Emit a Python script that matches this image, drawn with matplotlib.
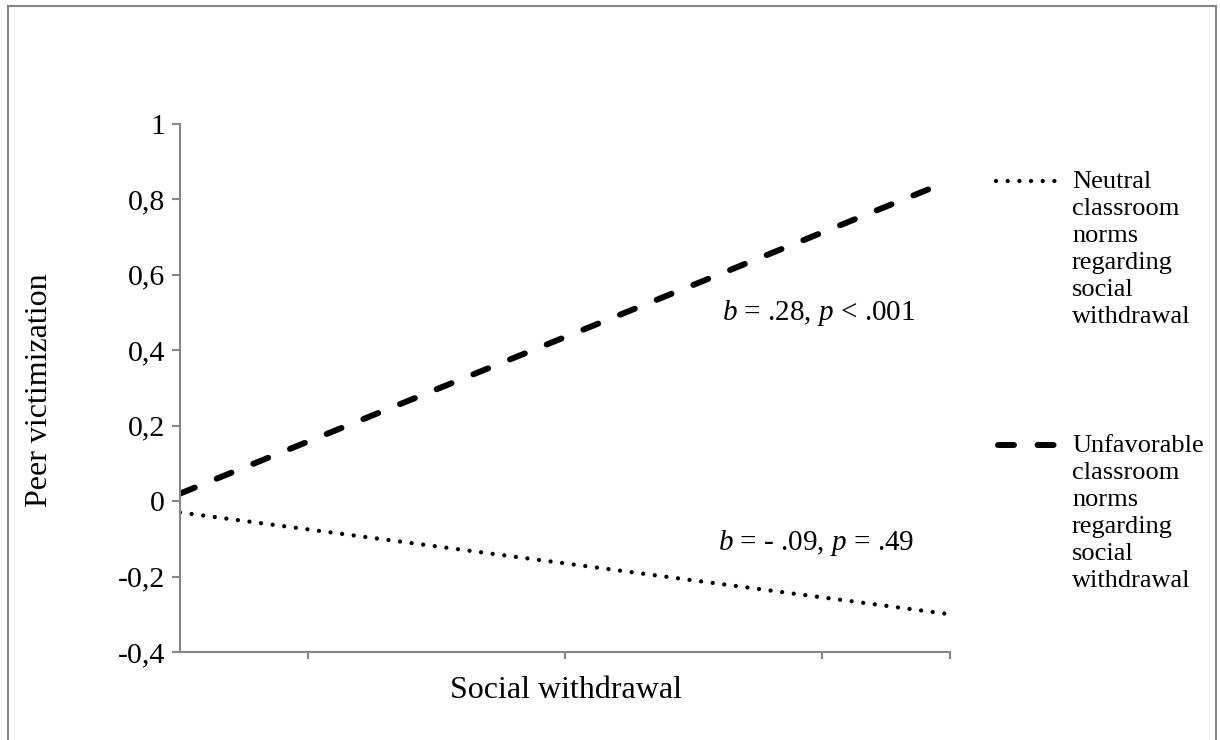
#!/usr/bin/env python3
# -*- coding: utf-8 -*-
"""Simple slopes plot: peer victimization vs social withdrawal by classroom norms."""
import matplotlib
matplotlib.use("Agg")
import matplotlib.pyplot as plt
from matplotlib.lines import Line2D

plt.rcParams["font.family"] = ["Liberation Serif", "DejaVu Serif"]
plt.rcParams["mathtext.fontset"] = "custom"
plt.rcParams["mathtext.rm"] = "Liberation Serif"
plt.rcParams["mathtext.it"] = "Liberation Serif:italic"
plt.rcParams["lines.scale_dashes"] = False

# data (low -> high social withdrawal)
x_pos = [0.0, 1.0]
neutral = [-0.03, -0.30]
unfavorable = [0.02, 0.85]
y_ticks = [-0.4, -0.2, 0, 0.2, 0.4, 0.6, 0.8, 1]
y_labels = ["-0,4", "-0,2", "0", "0,2", "0,4", "0,6", "0,8", "1"]
x_ticks = [1 / 6, 0.5, 5 / 6, 1.0]
lab_neutral = "Neutral\nclassroom\nnorms\nregarding\nsocial\nwithdrawal"
lab_unfav = "Unfavorable\nclassroom\nnorms\nregarding\nsocial\nwithdrawal"

W, H = 1220, 740
fig = plt.figure(figsize=(W / 100, H / 100), dpi=100)
ax = fig.add_axes([180 / W, (H - 652) / H, (950 - 180) / W, (652 - 124) / H])

gray = "#868686"
DOT = dict(color="black", lw=3.1, dashes=(0.01, 8.4), dash_capstyle="round")
DASH = dict(color="black", lw=4.3, dashes=(11.5, 17), dash_capstyle="round")

ax.plot(x_pos, neutral, **DOT)
ax.plot(x_pos, unfavorable, **DASH)

ax.set_xlim(0, 1)
ax.set_ylim(-0.4, 1)
ax.set_yticks(y_ticks)
ax.set_yticklabels(y_labels)
ax.set_xticks(x_ticks)
ax.set_xticklabels([])
for s in ("top", "right"):
    ax.spines[s].set_visible(False)
for s in ("left", "bottom"):
    ax.spines[s].set_color(gray)
    ax.spines[s].set_linewidth(1.5)
ax.tick_params(axis="both", colors=gray, width=1.5, length=5.8, direction="out",
               labelsize=21.5, labelcolor="black", pad=5)
ax.tick_params(axis="x", length=5)

ax.text(0.83, 0.5, r"$b$ = .28, $p$ < .001", fontsize=21,
        ha="center", va="center")
ax.text(0.826, -0.11, r"$b$ = - .09, $p$ = .49", fontsize=21,
        ha="center", va="center")

fig.text(566 / W, 1 - 690 / H, "Social withdrawal", fontsize=23,
         ha="center", va="center")
fig.text(40 / W, 1 - 390 / H, "Peer victimization", fontsize=23,
         ha="center", va="center", rotation=90)

# legend drawn by hand so the six-line labels stay left aligned at the top
fig.add_artist(Line2D([996 / W, 1060 / W], [1 - 181 / H] * 2, **DOT))
fig.add_artist(Line2D([998 / W, 1058 / W], [1 - 445 / H] * 2, **DASH))
fig.text(1072 / W, 1 - 171 / H, lab_neutral, fontsize=19, ha="left", va="top",
         linespacing=1.29)
fig.text(1072 / W, 1 - 435 / H, lab_unfav, fontsize=19, ha="left", va="top",
         linespacing=1.29)

# outer chart border (bottom cut off as in the source)
for xs, ys in (([8, 8], [6, 745]), ([8, 1216], [6, 6]), ([1216, 1216], [6, 745])):
    fig.add_artist(Line2D([v / W for v in xs], [1 - v / H for v in ys],
                          color=gray, lw=1.5))

fig.savefig("out.png", dpi=100)
